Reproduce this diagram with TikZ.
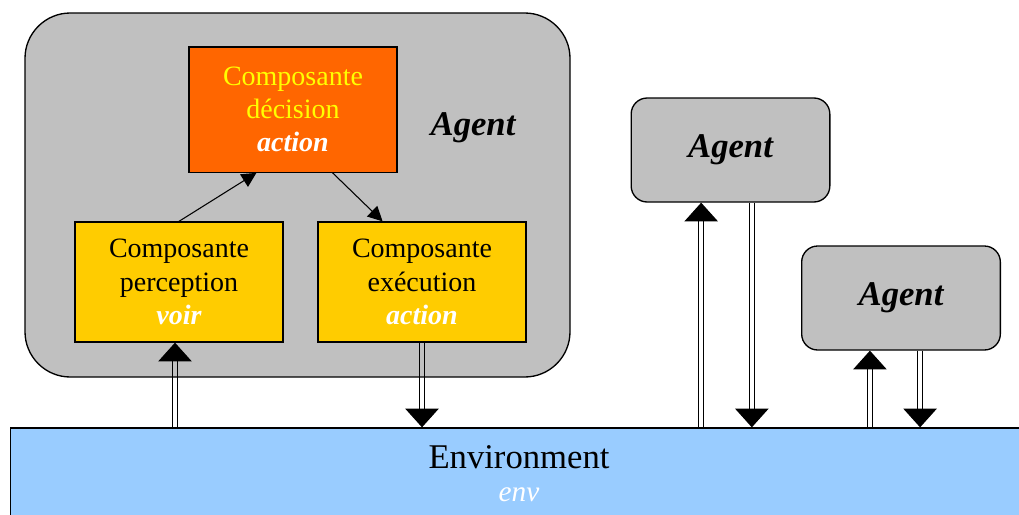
\documentclass[tikz,border=0pt]{standalone}
\usepackage{fontspec}
\setmainfont{Liberation Serif}
\usetikzlibrary{arrows.meta}
\definecolor{agray}{HTML}{C0C0C0}
\definecolor{dorange}{HTML}{FF6600}
\definecolor{cyellow}{HTML}{FFCC00}
\definecolor{tyellow}{HTML}{FFFF00}
\definecolor{envblue}{HTML}{99CCFF}
\begin{document}
\begin{tikzpicture}[x=0.75pt,y=-0.75pt,
  agentbig/.style={draw=black, line width=1pt, fill=agray, rounded corners=34pt},
  agentsmall/.style={draw=black, line width=1pt, fill=agray, rounded corners=12pt, minimum width=149pt, minimum height=78pt, inner sep=0pt},
  compbox/.style={draw=black, line width=1pt, minimum width=156pt, minimum height=90pt, inner sep=0pt, align=center, font=\fontsize{21}{25}\selectfont},
  agentlabel/.style={font=\fontsize{26}{30}\selectfont\bfseries\itshape},
  thinarrow/.style={-{Triangle[width=11pt,length=11pt]}, line width=0.8pt},
  dbl/.style={-{Triangle[width=25pt,length=14pt]}, line width=0.8pt, dash pattern=on 0pt off 3000pt,
    preaction={draw, solid, -, line width=1pt, shorten >=12pt, transform canvas={xshift=-1.8pt}},
    preaction={draw, solid, -, line width=1pt, shorten >=12pt, transform canvas={xshift=1.8pt}}}
]
\useasboundingbox (0,0) rectangle (1019,514);
% environment
\node[draw=black, line width=1pt, fill=envblue, minimum width=772pt, minimum height=84pt, inner sep=0pt] (env) at (525,484) {};
\node[font=\fontsize{26}{30}\selectfont] (envtxt) at (519,457) {Environment};
\node[font=\fontsize{22}{26}\selectfont\itshape, text=white] (envvar) at (519,495) {env};
% big agent
\draw[agentbig] (25,13) rectangle (570,377);
\node[agentlabel] (ag1) at (473,128) {Agent};
\node[compbox, fill=dorange, text=tyellow, minimum height=94pt] (decision) at (293,109.5)
  {Composante\\décision\\{\color{white}\bfseries\itshape action}};
\node[compbox, fill=cyellow] (perception) at (179,282)
  {Composante\\perception\\{\color{white}\bfseries\itshape voir}};
\node[compbox, fill=cyellow] (execution) at (422,282)
  {Composante\\exécution\\{\color{white}\bfseries\itshape action}};
\draw[thinarrow] (perception.north) -- (decision.240);
\draw[thinarrow] (decision.302) -- (execution.123);
% other agents
\node[agentsmall] (a2) at (730.5,150) {};
\node[agentlabel] at (a2.center) {Agent};
\node[agentsmall] (a3) at (901,298) {};
\node[agentlabel] at (a3.center) {Agent};
% double arrows
\draw[dbl] ([xshift=-3pt]perception.south |- env.north) -- ([xshift=-3pt]perception.south);
\draw[dbl] (execution.south) -- (execution.south |- env.north);
\draw[dbl] ([xshift=-22pt]a2.south |- env.north) -- ([xshift=-22pt]a2.south);
\draw[dbl] ([xshift=16pt]a2.south) -- ([xshift=16pt]a2.south |- env.north);
\draw[dbl] ([xshift=-23.3pt]a3.south |- env.north) -- ([xshift=-23.3pt]a3.south);
\draw[dbl] ([xshift=14.3pt]a3.south) -- ([xshift=14.3pt]a3.south |- env.north);
\end{tikzpicture}
\end{document}
